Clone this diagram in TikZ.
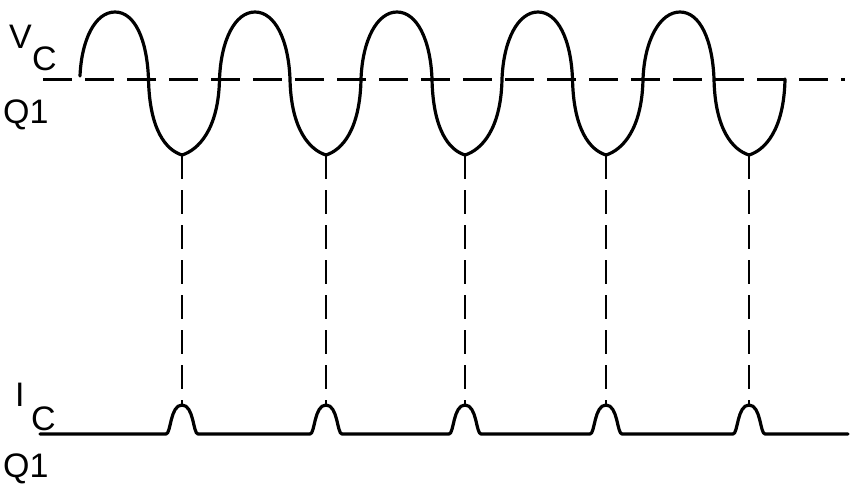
\documentclass[tikz,border=0pt]{standalone}
\usepackage{fontspec}
\setmainfont{Liberation Sans}
\begin{document}
\begin{tikzpicture}[x=1pt,y=-1pt,
  wave/.style={line width=3.2pt,line join=round,line cap=round},
  hdash/.style={line width=3pt,dash pattern=on 29pt off 13pt},
  vdash/.style={line width=2.5pt,dash pattern=on 24pt off 11pt},
  lbl/.style={inner sep=0pt,anchor=base west,font=\fontsize{34}{34}\selectfont}]
\useasboundingbox (0,0) rectangle (858,488);
% labels
\node[lbl] (v) at (9,48) {V};
\node[lbl] (vc) at (32,70) {C};
\node[lbl] (q1a) at (3,123) {Q1};
\node[lbl] (i) at (15,406) {I};
\node[lbl] (ic) at (31,430) {C};
\node[lbl] (q1b) at (3,477) {Q1};
% reference dashed line
\coordinate (hl) at (43,79);
\coordinate (hr) at (845,79);
\draw[hdash] (hl) -- (hr);
% voltage waveform
\draw[wave] (80,76) foreach \a/\m/\b/\t/\c in
  {80/115/148.5/182/219.5, 219.5/255/290/326/361, 361/397/432/465/502,
   502/538/572.5/606/643, 643/680/714/749/785}
  { .. controls (\a+1.5,40) and (\m-20,12) .. (\m,12)
    .. controls (\m+20,12) and (\b-1.5,40) .. (\b,79)
    .. controls (\b+1,130) and (\t-16,150) .. (\t,155)
    .. controls (\t+16,150) and (\c-1,130) .. (\c,79) };
% current waveform
\draw[wave] (40,434) foreach \t in {182,326,465,606,749}
  { -- (\t-16,434) .. controls (\t-11,434) and (\t-12,405) .. (\t,405)
    .. controls (\t+12,405) and (\t+11,434) .. (\t+16,434) } -- (848,434);
% vertical dashed connectors
\foreach \t [count=\k] in {182,326,465,606,749} {
  \coordinate (tr\k) at (\t,155);
  \coordinate (pk\k) at (\t,405);
  \draw[vdash] (tr\k) -- (pk\k);
}
\end{tikzpicture}
\end{document}
